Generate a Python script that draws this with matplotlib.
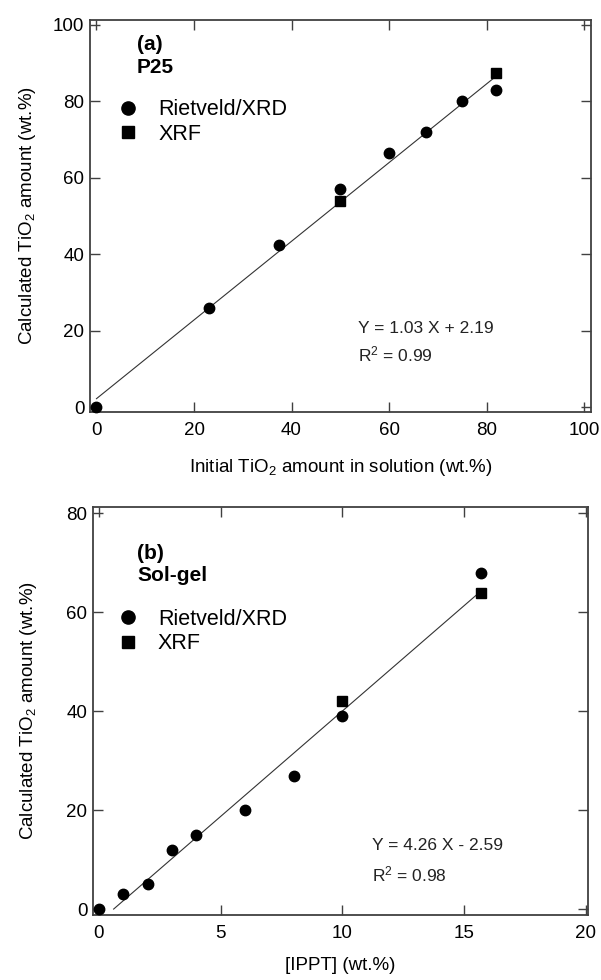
import matplotlib

matplotlib.use("Agg")

import matplotlib.pyplot as plt
from matplotlib.lines import Line2D

plt.rcParams["font.family"] = ["Liberation Sans", "DejaVu Sans"]
plt.rcParams["mathtext.fontset"] = "custom"
plt.rcParams["mathtext.rm"] = "Liberation Sans"
plt.rcParams["mathtext.it"] = "Liberation Sans:italic"
plt.rcParams["mathtext.bf"] = "Liberation Sans:bold"

# panel (a): P25
p25_xrd_x = [0, 23, 37.5, 50, 60, 67.5, 75, 82]
p25_xrd_y = [0, 26, 42.5, 57, 66.5, 72, 80, 83]
p25_xrf_x = [50, 82]
p25_xrf_y = [54, 87.5]
p25_fit = (1.03, 2.19)
p25_fit_range = [0, 82]

# panel (b): sol-gel
sg_xrd_x = [0, 1, 2, 3, 4, 6, 8, 10, 15.7]
sg_xrd_y = [0, 3, 5, 12, 15, 20, 27, 39, 68]
sg_xrf_x = [10, 15.7]
sg_xrf_y = [42, 64]
sg_fit = (4.26, -2.59)
sg_fit_range = [0.608, 15.7]

W, H = 601, 980
FS = 13.5
SPINE = "#404040"


def style_axes(ax, xticks, yticks, xlim, ylim):
    ax.set_xlim(*xlim)
    ax.set_ylim(*ylim)
    ax.set_xticks(xticks)
    ax.set_yticks(yticks)
    ax.tick_params(direction="in", length=7, width=1.0, color=SPINE,
                   top=True, right=True, labelsize=FS)
    ax.tick_params(axis="x", pad=7)
    ax.tick_params(axis="y", pad=4)
    for spine in ax.spines.values():
        spine.set_linewidth(1.3)
        spine.set_color(SPINE)


def draw_panel(ax, xrd_x, xrd_y, xrf_x, xrf_y, fit, fit_range,
               tag, name, tag_pos, leg_pos, eq, r2, eq_pos):
    slope, icpt = fit
    fx = fit_range
    fy = [slope * v + icpt for v in fx]
    ax.plot(fx, fy, color="#333333", linewidth=0.8, zorder=2)
    ax.plot(xrd_x, xrd_y, "o", color="black", markersize=7.5, zorder=3,
            clip_on=False)
    ax.plot(xrf_x, xrf_y, "s", color="black", markersize=7.2, zorder=3,
            clip_on=False)
    tx, ty1, ty2 = tag_pos
    ax.text(tx, ty1, tag, transform=ax.transAxes, fontsize=15,
            fontweight="bold", va="baseline", ha="left")
    ax.text(tx, ty2, name, transform=ax.transAxes, fontsize=15,
            fontweight="bold", va="baseline", ha="left")
    handles = [
        Line2D([], [], marker="o", color="black", linestyle="none", markersize=9.5),
        Line2D([], [], marker="s", color="black", linestyle="none", markersize=9),
    ]
    ax.legend(handles, ["Rietveld/XRD", "XRF"], loc="center left",
              bbox_to_anchor=leg_pos, frameon=False, fontsize=15.5,
              handletextpad=0.8, labelspacing=0.17, handlelength=1.2,
              borderpad=0, borderaxespad=0)
    ex, ey1, ey2 = eq_pos
    ax.text(ex, ey1, eq, transform=ax.transAxes, fontsize=12.5,
            va="baseline", ha="left", color="#222222")
    ax.text(ex, ey2, r2, transform=ax.transAxes, fontsize=12.5,
            va="baseline", ha="left", color="#222222")


fig = plt.figure(figsize=(W / 100, H / 100), dpi=100)

ax1 = fig.add_axes([90 / W, 1 - 412 / H, 501 / W, 392 / H])
style_axes(ax1, [0, 20, 40, 60, 80, 100], [0, 20, 40, 60, 80, 100],
           (-1.33, 101.4), (-1.3, 101.3))
draw_panel(ax1, p25_xrd_x, p25_xrd_y, p25_xrf_x, p25_xrf_y, p25_fit,
           p25_fit_range, "(a)", "P25", (0.094, 0.923, 0.864), (0.050, 0.740),
           "Y = 1.03 X + 2.19", r"R$^2$ = 0.99", (0.535, 0.202, 0.128))
ax1.set_xlabel(r"Initial TiO$_2$ amount in solution (wt.%)", fontsize=FS, labelpad=13)
ax1.set_ylabel(r"Calculated TiO$_2$ amount (wt.%)", fontsize=FS, labelpad=11)

ax2 = fig.add_axes([93 / W, 1 - 915 / H, 495 / W, 408 / H])
style_axes(ax2, [0, 5, 10, 15, 20], [0, 20, 40, 60, 80],
           (-0.24, 20.1), (-1.2, 81.3))
draw_panel(ax2, sg_xrd_x, sg_xrd_y, sg_xrf_x, sg_xrf_y, sg_fit,
           sg_fit_range, "(b)", "Sol-gel", (0.089, 0.873, 0.819), (0.044, 0.695),
           "Y = 4.26 X - 2.59", r"R$^2$ = 0.98", (0.564, 0.160, 0.082))
ax2.set_xlabel("[IPPT] (wt.%)", fontsize=FS, labelpad=11)
ax2.set_ylabel(r"Calculated TiO$_2$ amount (wt.%)", fontsize=FS, labelpad=20)

fig.savefig("out.png", dpi=100)
